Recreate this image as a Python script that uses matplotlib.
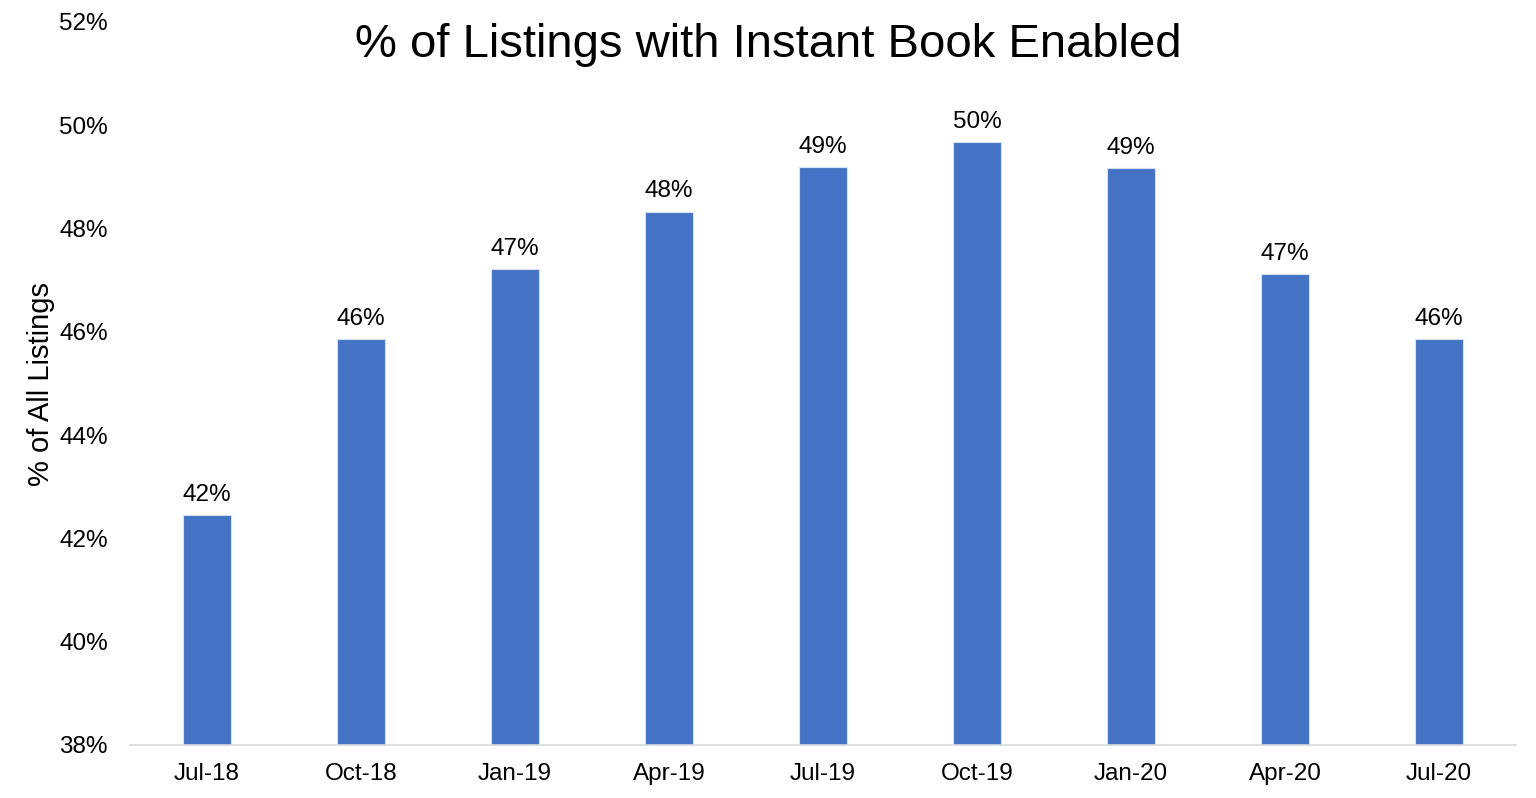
import numpy as np
import matplotlib.pyplot as plt

plt.rcParams['font.family'] = ['Liberation Sans', 'DejaVu Sans']

# Data
quarters = ['Jul-18', 'Oct-18', 'Jan-19', 'Apr-19', 'Jul-19',
            'Oct-19', 'Jan-20', 'Apr-20', 'Jul-20']
share = [42.45, 45.86, 47.21, 48.33, 49.19, 49.67, 49.17, 47.12, 45.86]
yticks = [38, 40, 42, 44, 46, 48, 50, 52]

fig = plt.figure(figsize=(15.36, 7.98), dpi=100)
ax = fig.add_axes([130 / 1536, 1 - 745 / 798, (1516 - 130) / 1536, (745 - 22) / 798])

x = np.arange(len(quarters))
bars = ax.bar(x, share, width=0.31, color='#4472C4', edgecolor='#D6E0F3', linewidth=0.8, zorder=2)

for xi, v in zip(x, share):
    ax.text(xi, v + 0.18, f'{round(v):.0f}%', ha='center', va='bottom', fontsize=17.5)

ax.set_xlim(-0.5, len(quarters) - 0.5)
ax.set_ylim(38, 52)
ax.set_yticks(yticks)
ax.set_yticklabels([f'{t}%' for t in yticks], fontsize=17.5)
ax.set_xticks(x)
ax.set_xticklabels(quarters, fontsize=17.5)
ax.tick_params(axis='both', length=0)
ax.tick_params(axis='y', pad=16)
ax.tick_params(axis='x', pad=13)

for s in ['top', 'right', 'left']:
    ax.spines[s].set_visible(False)
ax.spines['bottom'].set_color('#D9D9D9')
ax.spines['bottom'].set_linewidth(1.2)

ax.set_ylabel('% of All Listings', fontsize=21, labelpad=3)
fig.text(768 / 1536, 1 - 45 / 798, '% of Listings with Instant Book Enabled',
         ha='center', va='center', fontsize=34)

fig.savefig('out.png', dpi=100)
